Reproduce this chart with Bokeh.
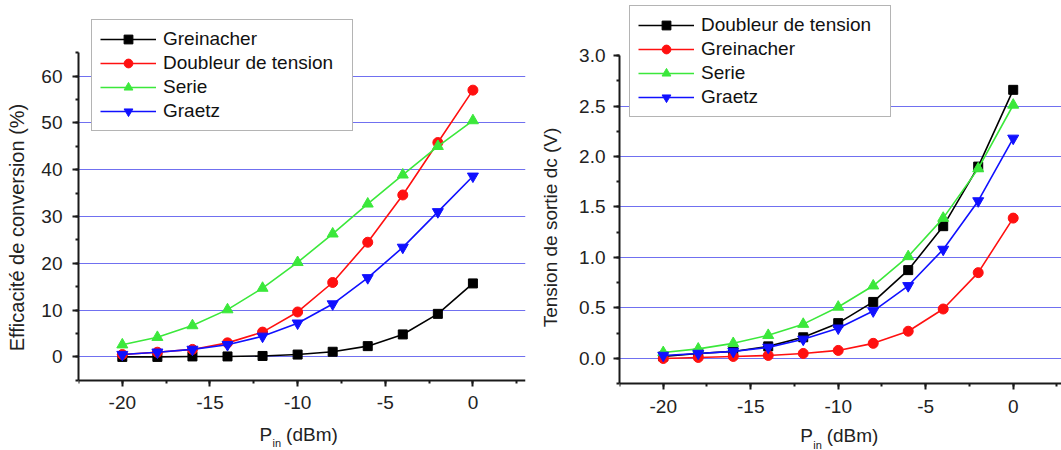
from bokeh.plotting import figure
from bokeh.layouts import row
from bokeh.models import (SingleIntervalTicker, NumeralTickFormatter, Label,
                          Range1d, Legend, LegendItem)
from bokeh.embed import file_html
from bokeh.resources import INLINE

# ---------------- data ----------------
p_in = [-20, -18, -16, -14, -12, -10, -8, -6, -4, -2, 0]

# Left: conversion efficiency (%)
eff_labels = ["Greinacher", "Doubleur de tension", "Serie", "Graetz"]
eff_greinacher = [0.0, 0.0, 0.1, 0.1, 0.2, 0.5, 1.1, 2.3, 4.8, 9.2, 15.7]
eff_doubleur = [0.5, 1.0, 1.6, 3.0, 5.3, 9.6, 15.9, 24.5, 34.6, 45.8, 57.0]
eff_serie = [2.6, 4.2, 6.7, 10.1, 14.7, 20.2, 26.3, 32.7, 38.9, 45.0, 50.5]
eff_graetz = [0.5, 1.0, 1.6, 2.6, 4.4, 7.2, 11.3, 16.9, 23.4, 31.0, 38.6]

# Right: dc output voltage (V)
v_labels = ["Doubleur de tension", "Greinacher", "Serie", "Graetz"]
v_doubleur = [0.02, 0.05, 0.07, 0.12, 0.21, 0.35, 0.56, 0.875, 1.31, 1.90, 2.66]
v_greinacher = [0.0, 0.01, 0.02, 0.03, 0.05, 0.08, 0.15, 0.27, 0.49, 0.85, 1.39]
v_serie = [0.06, 0.095, 0.15, 0.23, 0.34, 0.51, 0.72, 1.01, 1.39, 1.88, 2.51]
v_graetz = [0.03, 0.05, 0.07, 0.11, 0.19, 0.30, 0.47, 0.72, 1.08, 1.56, 2.18]

# ---------------- styles ----------------
FONT = "Liberation Sans"
BLACK, RED, GREEN, BLUE = "#000000", "#ff1010", "#3be83b", "#1010ff"
GRID = "#7070f0"

eff_series = [eff_greinacher, eff_doubleur, eff_serie, eff_graetz]
eff_styles = [(BLACK, "square", 9), (RED, "circle", 10),
              (GREEN, "triangle", 11), (BLUE, "inverted_triangle", 11)]
v_series = [v_doubleur, v_greinacher, v_serie, v_graetz]
v_styles = eff_styles  # same colour/marker order on the right chart


def style(p, y_interval, y_bounds, y_fmt, y_label, title_size,
          title_standoff, label_standoff):
    p.outline_line_color = None
    p.background_fill_color = "white"
    p.border_fill_color = "white"
    p.xgrid.visible = False
    p.ygrid.grid_line_color = GRID
    p.ygrid.grid_line_width = 1
    p.xaxis.ticker = SingleIntervalTicker(interval=5, num_minor_ticks=2)
    p.xaxis.formatter = NumeralTickFormatter(format="0")
    p.xaxis.fixed_location = y_bounds[0]
    p.yaxis.ticker = SingleIntervalTicker(interval=y_interval, num_minor_ticks=2)
    p.yaxis.bounds = y_bounds
    if y_fmt:
        p.yaxis.formatter = NumeralTickFormatter(format=y_fmt)
    for ax in (p.xaxis[0], p.yaxis[0]):
        ax.axis_line_color = "#1a1a1a"
        ax.axis_line_width = 2
        ax.major_tick_line_color = "#1a1a1a"
        ax.minor_tick_line_color = "#1a1a1a"
        ax.major_tick_line_width = 2
        ax.minor_tick_line_width = 2
        ax.major_tick_in = 0
        ax.major_tick_out = 6
        ax.minor_tick_in = 0
        ax.minor_tick_out = 3
        ax.major_label_text_font = FONT
        ax.major_label_text_font_size = "19px"
        ax.major_label_text_color = "#222222"
    p.xaxis.major_label_standoff = 10
    p.yaxis.major_label_standoff = label_standoff
    p.yaxis.axis_label = y_label
    p.yaxis.axis_label_text_font = FONT
    p.yaxis.axis_label_text_font_style = "normal"
    p.yaxis.axis_label_text_font_size = title_size
    p.yaxis.axis_label_text_color = "#222222"
    p.yaxis.axis_label_standoff = title_standoff


def add_series(p, ys_list, styles, labels):
    items = []
    for ys, (c, m, s), lab in zip(ys_list, styles, labels):
        r1 = p.line(p_in, ys, line_color=c, line_width=1.6)
        r2 = p.scatter(p_in, ys, marker=m, size=s, fill_color=c, line_color=c)
        items.append(LegendItem(label=lab, renderers=[r1, r2]))
    return items


def add_legend(p, items, loc):
    leg = Legend(items=items, location=loc)
    leg.label_text_font = FONT
    leg.label_text_font_size = "19px"
    leg.label_text_color = "#111111"
    leg.glyph_width = 56
    leg.glyph_height = 22
    leg.label_height = 22
    leg.label_width = 181
    leg.label_standoff = 7
    leg.spacing = 2
    leg.padding = 8
    leg.margin = 0
    leg.border_line_color = "#6a6a6a"
    leg.border_line_width = 1.5
    leg.background_fill_color = "white"
    leg.background_fill_alpha = 1
    p.add_layout(leg)


def add_xlabel(p, y0, dy):
    xc = (min(p_in) + max(p_in)) / 2
    common = dict(x=xc, y=y0, text_font=FONT, text_color="#222222",
                  text_align="left", text_baseline="middle")
    p.add_layout(Label(text="P", text_font_size="19px", x_offset=-38, y_offset=dy, **common))
    p.add_layout(Label(text="in", text_font_size="11px", x_offset=-25, y_offset=dy - 9, **common))
    p.add_layout(Label(text="(dBm)", text_font_size="19px", x_offset=-11.5, y_offset=dy, **common))


# ---------------- left chart ----------------
p1 = figure(width=535, height=450, output_backend="svg", toolbar_location=None,
            x_range=Range1d(-22.5, 3.0), y_range=Range1d(-20.0, 75.3),
            min_border_left=78, min_border_right=10, min_border_top=4,
            min_border_bottom=0)
style(p1, 10, (-5, 65), None, "Efficacité de conversion (%)", "20px", 10, 10)
items1 = add_series(p1, eff_series, eff_styles, eff_labels)
add_legend(p1, items1, (13, 319))
add_xlabel(p1, -5, -54)

# ---------------- right chart ----------------
p2 = figure(width=526, height=450, output_backend="svg", toolbar_location=None,
            x_range=Range1d(-22.5, 2.76), y_range=Range1d(-0.911, 3.505),
            min_border_left=84, min_border_right=0, min_border_top=4,
            min_border_bottom=0)
style(p2, 0.5, (-0.25, 3.0), "0.0", "Tension de sortie dc (V)", "19px", 15, 8)
p2.ygrid.bounds = (-0.25, 2.75)
items2 = add_series(p2, v_series, v_styles, v_labels)
add_legend(p2, items2, (10, 333))
add_xlabel(p2, -0.25, -52)

layout = row(p1, p2, spacing=0)
open("out.html", "w").write(file_html(layout, INLINE))
